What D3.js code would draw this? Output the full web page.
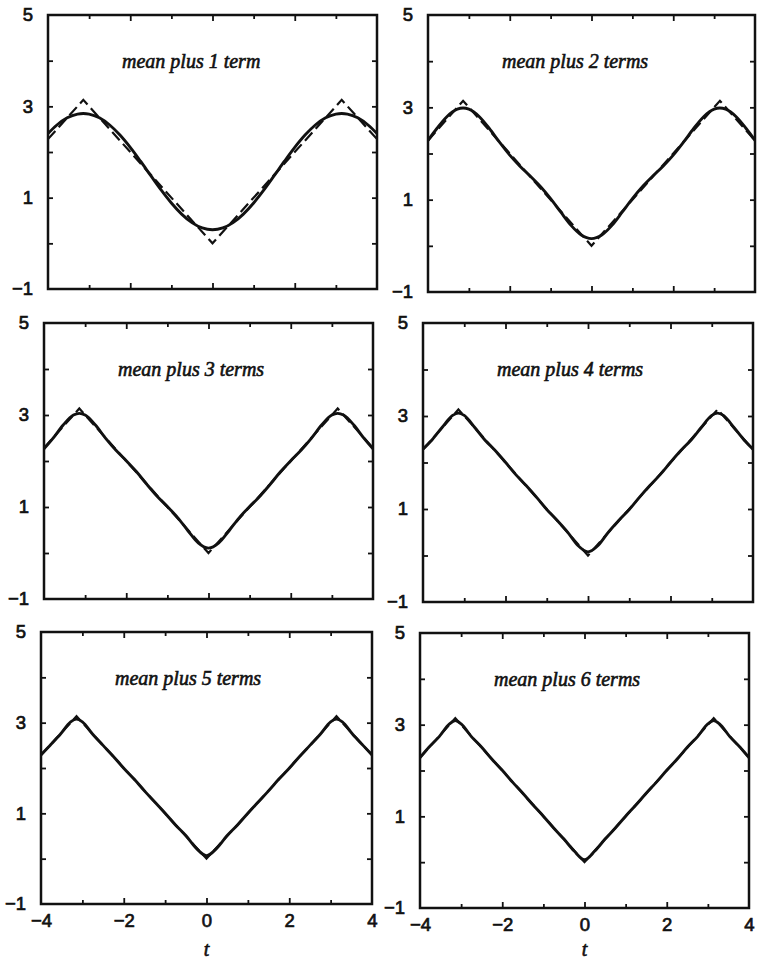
<!DOCTYPE html>
<html>
<head>
<meta charset="utf-8">
<script src="https://cdn.jsdelivr.net/npm/d3@7"></script>
<style>
  body { margin: 0; background: #fff; }
  svg { display: block; }
</style>
</head>
<body>
<svg id="chart" width="757" height="961"></svg>
<script>
// ---- data ----
const tValues = [-4, -3.783, -3.533, -3.283, -3.1416, -3, -2.75, -2.5, -2.25, -2, -1.75, -1.5, -1.25, -1, -0.75, -0.5, -0.25,
  0, 0.25, 0.5, 0.75, 1, 1.25, 1.5, 1.75, 2, 2.25, 2.5, 2.75, 3, 3.1416, 3.283, 3.533, 3.783, 4];

const meanPlus1 = [2.403, 2.591, 2.748, 2.831, 2.844, 2.831, 2.748, 2.591, 2.371, 2.101, 1.798, 1.481, 1.169, 0.883, 0.639, 0.453, 0.337,
  0.298, 0.337, 0.453, 0.639, 0.883, 1.169, 1.481, 1.798, 2.101, 2.371, 2.591, 2.748, 2.831, 2.844, 2.831, 2.748, 2.591, 2.403];
const meanPlus2 = [2.284, 2.542, 2.802, 2.960, 2.986, 2.960, 2.802, 2.542, 2.244, 1.965, 1.725, 1.511, 1.285, 1.023, 0.728, 0.443, 0.234,
  0.156, 0.234, 0.443, 0.728, 1.023, 1.285, 1.511, 1.725, 1.965, 2.244, 2.542, 2.802, 2.960, 2.986, 2.960, 2.802, 2.542, 2.284];
const meanPlus3 = [2.263, 2.491, 2.783, 2.999, 3.036, 2.999, 2.783, 2.491, 2.232, 2.008, 1.765, 1.493, 1.235, 1.009, 0.770, 0.484, 0.218,
  0.105, 0.218, 0.484, 0.770, 1.009, 1.235, 1.493, 1.765, 2.008, 2.232, 2.491, 2.783, 2.999, 3.036, 2.999, 2.783, 2.491, 2.263];
const meanPlus4 = [2.288, 2.485, 2.759, 3.013, 3.062, 3.013, 2.759, 2.485, 2.257, 2.004, 1.740, 1.505, 1.255, 0.989, 0.757, 0.509, 0.222,
  0.079, 0.222, 0.509, 0.757, 0.989, 1.255, 1.505, 1.740, 2.004, 2.257, 2.485, 2.759, 3.013, 3.062, 3.013, 2.759, 2.485, 2.288];
const meanPlus5 = [2.290, 2.499, 2.745, 3.018, 3.078, 3.018, 2.745, 2.499, 2.255, 1.994, 1.756, 1.496, 1.251, 1.003, 0.743, 0.512, 0.232,
  0.064, 0.232, 0.512, 0.743, 1.003, 1.251, 1.496, 1.756, 1.994, 2.255, 2.499, 2.745, 3.018, 3.078, 3.018, 2.745, 2.499, 2.290];
const meanPlus6 = [2.279, 2.507, 2.740, 3.018, 3.089, 3.018, 2.740, 2.507, 2.245, 2.004, 1.746, 1.503, 1.247, 1.003, 0.747, 0.504, 0.242,
  0.053, 0.242, 0.504, 0.747, 1.003, 1.247, 1.503, 1.746, 2.004, 2.245, 2.507, 2.740, 3.018, 3.089, 3.018, 2.740, 2.507, 2.279];

// exact (dashed) function
const exactT = [-4, -3.1416, 0, 3.1416, 4];
const exactY = [2.283, 3.1416, 0, 3.1416, 2.283];

const panelTitles = ["mean plus 1 term", "mean plus 2 terms", "mean plus 3 terms",
                     "mean plus 4 terms", "mean plus 5 terms", "mean plus 6 terms"];
const allSeries = [meanPlus1, meanPlus2, meanPlus3, meanPlus4, meanPlus5, meanPlus6];

const yTickLabels = [-1, 1, 3, 5];
const yTickMarks = [0, 1, 2, 3, 4];
const xTickLabels = [-4, -2, 0, 2, 4];
const xMajorTicks = [-2, 0, 2];
const xMinorTicks = [-3, -1, 1, 3];
const xAxisTitle = "t";

// ---- layout ----
const boxes = [
  {L: 48,  R: 377, T: 15,  B: 289},
  {L: 428, R: 755, T: 15,  B: 292},
  {L: 44,  R: 373, T: 323, B: 599},
  {L: 423, R: 753, T: 323, B: 602},
  {L: 41,  R: 372, T: 632, B: 904},
  {L: 420, R: 749, T: 633, B: 908}
];

const svg = d3.select("#chart");
svg.append("rect").attr("width", 757).attr("height", 961).attr("fill", "#fff");

const ink = "#111";
const sansFont = "'Liberation Sans', Arial, Helvetica, sans-serif";
const serifFont = "'Liberation Serif', 'Times New Roman', serif";

function styleAxis(g) {
  g.select(".domain").remove();
  g.selectAll(".tick line").attr("stroke", ink).attr("stroke-width", 1.8);
}

boxes.forEach((b, i) => {
  const x = d3.scaleLinear().domain([-4, 4]).range([b.L, b.R]);
  const y = d3.scaleLinear().domain([-1, 5]).range([b.B, b.T]);
  const g = svg.append("g");

  const clipId = "clip" + i;
  g.append("clipPath").attr("id", clipId)
    .append("rect").attr("x", b.L).attr("y", b.T).attr("width", b.R - b.L).attr("height", b.B - b.T);

  const plot = g.append("g").attr("clip-path", `url(#${clipId})`);

  plot.append("path")
    .datum(exactT.map((t, k) => [t, exactY[k]]))
    .attr("d", d3.line().x(d => x(d[0])).y(d => y(d[1])).curve(d3.curveLinear))
    .attr("fill", "none").attr("stroke", ink).attr("stroke-width", 2.2)
    .attr("stroke-dasharray", "11,5");

  plot.append("path")
    .datum(tValues.map((t, k) => [t, allSeries[i][k]]))
    .attr("d", d3.line().x(d => x(d[0])).y(d => y(d[1])).curve(d3.curveMonotoneX))
    .attr("fill", "none").attr("stroke", ink).attr("stroke-width", 2.9)
    .attr("stroke-linejoin", "round");

  // ticks, inward on all sides
  g.append("g").attr("transform", `translate(0,${b.B})`)
    .call(d3.axisBottom(x).tickValues(xMajorTicks).tickSize(-6).tickFormat("")).call(styleAxis);
  g.append("g").attr("transform", `translate(0,${b.B})`)
    .call(d3.axisBottom(x).tickValues(xMinorTicks).tickSize(-4).tickFormat("")).call(styleAxis);
  g.append("g").attr("transform", `translate(0,${b.T})`)
    .call(d3.axisTop(x).tickValues(xMajorTicks).tickSize(-6).tickFormat("")).call(styleAxis);
  g.append("g").attr("transform", `translate(0,${b.T})`)
    .call(d3.axisTop(x).tickValues(xMinorTicks).tickSize(-4).tickFormat("")).call(styleAxis);
  g.append("g").attr("transform", `translate(${b.L},0)`)
    .call(d3.axisLeft(y).tickValues(yTickMarks).tickSize(-5).tickFormat("")).call(styleAxis);
  g.append("g").attr("transform", `translate(${b.R},0)`)
    .call(d3.axisRight(y).tickValues(yTickMarks).tickSize(-5).tickFormat("")).call(styleAxis);

  // y labels
  const yl = g.append("g").attr("transform", `translate(${b.L},0)`)
    .call(d3.axisLeft(y).tickValues(yTickLabels).tickSize(0).tickPadding(15).tickFormat(d3.format("d")));
  yl.select(".domain").remove();
  yl.selectAll("text").attr("font-family", sansFont).attr("font-size", 18.5)
    .attr("fill", ink).attr("stroke", ink).attr("stroke-width", 0.7);

  // frame
  g.append("rect").attr("x", b.L).attr("y", b.T).attr("width", b.R - b.L).attr("height", b.B - b.T)
    .attr("fill", "none").attr("stroke", ink).attr("stroke-width", 2.5);

  // title
  g.append("text").attr("x", b.L + 74).attr("y", b.T + 53)
    .attr("font-family", serifFont).attr("font-style", "italic").attr("font-size", 20)
    .attr("fill", ink).attr("stroke", ink).attr("stroke-width", 0.6)
    .text(panelTitles[i]);

  // bottom row x labels
  if (i >= 4) {
    const xl = g.append("g").attr("transform", `translate(0,${b.B})`)
      .call(d3.axisBottom(x).tickValues(xTickLabels).tickSize(0).tickPadding(10).tickFormat(d3.format("d")));
    xl.select(".domain").remove();
    xl.selectAll("text").attr("font-family", sansFont).attr("font-size", 18.5)
      .attr("fill", ink).attr("stroke", ink).attr("stroke-width", 0.7);
    g.append("text").attr("x", (b.L + b.R) / 2).attr("y", 956)
      .attr("text-anchor", "middle")
      .attr("font-family", serifFont).attr("font-style", "italic").attr("font-size", 20)
      .attr("fill", ink).attr("stroke", ink).attr("stroke-width", 0.6).text(xAxisTitle);
  }
});
</script>
</body>
</html>
